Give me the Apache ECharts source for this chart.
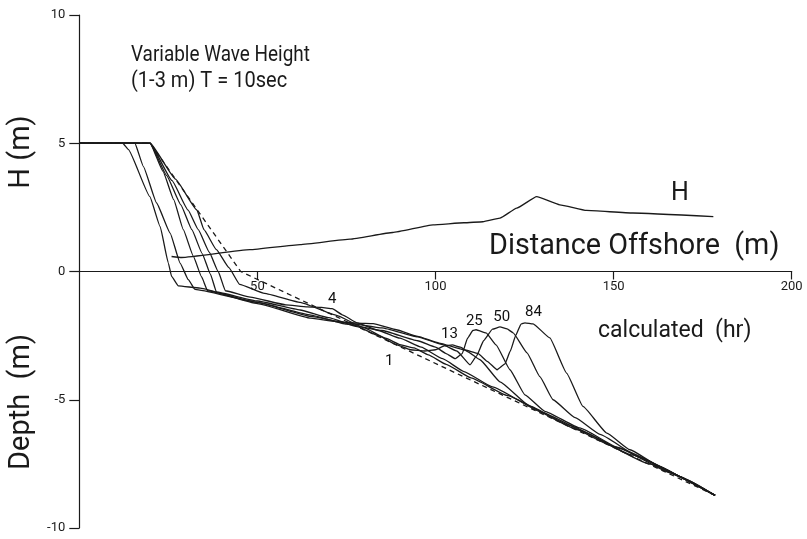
<!DOCTYPE html>
<html>
<head>
<meta charset="utf-8">
<script src="https://cdn.jsdelivr.net/npm/echarts@6/dist/echarts.min.js"></script>
<style>
html,body{margin:0;padding:0;background:#fff;}
#chart{width:807px;height:539px;}
</style>
</head>
<body>
<div id="chart"></div>
<script>
// ---- data (distance offshore m, elevation m) ----
const xTicks = [0, 50, 100, 150, 200];
const yTicks = [-10, -5, 0, 5, 10];

const initialProfile = [[0,5],[19.9,5],[45.3,0],[178.5,-8.73]];

const profile1 = [[0,5],[19.9,5],[27,3.6],[33,2.4],[35,1.63],[38.5,0.85],[42,0.15],[45,-0.5],[52,-0.85],[62,-1.2],[72,-1.7],[80,-2.2],[86,-2.6],[90,-2.85],[94,-2.98],[98,-3.25],[103,-3.62],[110,-4.15],[120,-4.83],[140,-6.17],[160,-7.5],[178.5,-8.73]];

const profile4 = [[0,5],[19.9,5],[26,3.55],[30.5,2.4],[33.4,1.63],[36.5,0.75],[39,0],[41,-0.75],[48,-1.0],[58,-1.3],[64,-1.38],[68,-1.4],[71,-1.45],[74,-1.7],[78,-2.0],[84,-2.3],[90,-2.6],[96,-2.95],[102,-3.4],[108,-3.9],[116,-4.5],[130,-5.5],[150,-6.82],[178.5,-8.73]];

const profile13 = [[0,5],[19.9,5],[24.5,3.75],[28.5,2.6],[31.6,1.63],[34.5,0.7],[36.8,-0.1],[38.5,-0.8],[50,-1.15],[62,-1.5],[70,-1.8],[78,-2.15],[84,-2.5],[89,-2.85],[93,-3.05],[97,-3.1],[100,-3.05],[102.5,-2.9],[104.7,-2.86],[107,-2.95],[109.1,-3.13],[112.5,-3.44],[118.1,-4.3],[126.5,-5.25],[137.7,-6.0],[155,-7.15],[178.5,-8.73]];

const profile25 = [[0,5],[19.9,5],[23.5,3.9],[26.5,2.8],[29.2,1.63],[32,0.6],[34.3,-0.2],[36,-0.75],[50,-1.2],[65,-1.7],[75,-2.05],[85,-2.3],[95,-2.7],[100,-2.95],[103,-3.2],[105.5,-3.4],[107.5,-3.2],[109,-2.6],[110.5,-2.3],[111.4,-2.27],[114.2,-2.39],[117,-2.86],[120.9,-3.83],[125.1,-4.81],[130.7,-5.45],[140.5,-6.1],[151.8,-6.9],[165.9,-7.85],[178.5,-8.73]];

const profile50 = [[0,5],[15.6,5],[18,4.09],[21.7,2.67],[25.5,1.5],[28.3,0.33],[30.6,-0.32],[32.5,-0.7],[50,-1.2],[65,-1.75],[75,-2.0],[85,-2.2],[95,-2.55],[102,-2.85],[106,-3.1],[109.7,-3.64],[111.5,-3.3],[113.5,-2.7],[116,-2.25],[118.1,-2.16],[120.1,-2.24],[121.8,-2.39],[125.7,-3.17],[129.3,-4.1],[133,-5.0],[139.2,-5.7],[146.2,-6.35],[157.4,-7.25],[168.6,-8.0],[178.5,-8.73]];

const profile84 = [[0,5],[12.2,5],[13.8,4.75],[19.8,2.92],[22.7,1.75],[25,0.33],[25.9,-0.19],[27.8,-0.56],[33.9,-0.65],[50,-1.25],[65,-1.82],[72,-1.95],[78,-2.01],[82.5,-2.03],[89,-2.27],[95,-2.53],[101,-2.79],[108,-3.05],[112,-3.2],[114.5,-3.5],[117.3,-3.83],[119.5,-3.6],[121,-3.1],[122.5,-2.5],[124,-2.05],[125.1,-2.0],[127.4,-2.04],[132.1,-2.59],[136.8,-3.96],[141.4,-5.26],[148.1,-6.3],[154.6,-6.95],[163,-7.6],[170.5,-8.12],[178.5,-8.73]];

const waveHeight = [[25.9,0.585],[28.7,0.546],[47.9,0.85],[62,1.05],[76,1.26],[88,1.52],[99.3,1.82],[108,1.9],[113.3,1.94],[118.1,2.08],[122.8,2.47],[128.4,2.92],[134.9,2.6],[142.4,2.38],[155.4,2.28],[178,2.14]];

const curveLabels = ['4', '1', '13', '25', '50', '84'];
const curveLabelPos = [[71.0,-1.08],[87.0,-3.51],[103.9,-2.44],[110.9,-1.95],[118.6,-1.78],[127.5,-1.60]];

// ---- chart ----
const ink = '#1a1a1a';
const font = 'Roboto, "Liberation Sans", sans-serif';
const chart = echarts.init(document.getElementById('chart'), null, {renderer: 'canvas'});

const gridTop = 15, gridBottom = 11, chartH = 539;
const plotH = chartH - gridTop - gridBottom;
// x axis drawn at y = 0, which sits in the middle of the symmetric -10..10 range
const xAxisOffset = -plotH * (0 - yTicks[0]) / (yTicks[yTicks.length - 1] - yTicks[0]);

function lineSeries(data, dashed) {
  return {
    type: 'line', data: data, symbol: 'none',
    smooth: dashed ? false : 0.12, smoothMonotone: 'x',
    lineStyle: {color: ink, width: 1.3, type: dashed ? [5, 4] : 'solid'},
    silent: true, z: dashed ? 3 : 2
  };
}

const profiles = [profile1, profile4, profile13, profile25, profile50, profile84];

const series = [lineSeries(initialProfile, true)]
  .concat(profiles.map(p => lineSeries(p, false)))
  .concat([lineSeries(waveHeight, false)])
  .concat([{
    type: 'scatter', symbolSize: 0, silent: true, z: 5,
    itemStyle: {opacity: 1},
    data: curveLabels.map((t, i) => ({value: curveLabelPos[i], name: t})),
    label: {show: true, position: 'inside', formatter: p => p.name, opacity: 1,
      color: '#111', fontSize: 15, fontFamily: font}
  }]);

chart.setOption({
  animation: false,
  backgroundColor: '#fff',
  grid: {left: 79.3, right: 15.3, top: gridTop, bottom: gridBottom, containLabel: false, outerBoundsMode: 'none'},
  xAxis: {
    type: 'value', min: xTicks[0], max: xTicks[xTicks.length - 1], interval: 50,
    position: 'bottom', offset: xAxisOffset,
    axisLine: {onZero: false, lineStyle: {color: ink, width: 1.2}},
    axisTick: {show: true, inside: false, length: 8, lineStyle: {color: ink, width: 1.2}},
    axisLabel: {showMinLabel: false, margin: 9, color: ink, fontSize: 13, fontFamily: font,
      formatter: v => xTicks.indexOf(v) >= 0 ? String(v) : ''},
    splitLine: {show: false}
  },
  yAxis: {
    type: 'value', min: yTicks[0], max: yTicks[yTicks.length - 1], interval: 5,
    axisLine: {show: true, onZero: false, lineStyle: {color: ink, width: 1.2}},
    axisTick: {show: true, length: 10, lineStyle: {color: ink, width: 1.2}},
    axisLabel: {margin: 14, color: ink, fontSize: 13, fontFamily: font,
      formatter: v => yTicks.indexOf(v) >= 0 ? String(v) : ''},
    splitLine: {show: false}
  },
  graphic: [
    {type: 'text', x: 22, y: 152, rotation: Math.PI / 2,
      style: {text: 'H (m)', fill: ink, font: '29px ' + font, textAlign: 'center', textVerticalAlign: 'middle'}},
    {type: 'text', x: 22, y: 402, rotation: Math.PI / 2,
      style: {text: 'Depth  (m)', fill: ink, font: '29px ' + font, textAlign: 'center', textVerticalAlign: 'middle'}},
    {type: 'text', x: 131, y: 55, scaleX: 0.86,
      style: {text: 'Variable Wave Height', fill: ink, font: '22px ' + font, textAlign: 'left', textVerticalAlign: 'middle'}},
    {type: 'text', x: 131, y: 81, scaleX: 0.91,
      style: {text: '(1-3 m) T = 10sec', fill: ink, font: '22px ' + font, textAlign: 'left', textVerticalAlign: 'middle'}},
    {type: 'text', x: 680, y: 194,
      style: {text: 'H', fill: ink, font: '25px ' + font, textAlign: 'center', textVerticalAlign: 'middle'}},
    {type: 'text', x: 489, y: 247,
      style: {text: 'Distance Offshore  (m)', fill: ink, font: '28.8px ' + font, textAlign: 'left', textVerticalAlign: 'middle'}},
    {type: 'text', x: 598, y: 331,
      style: {text: 'calculated  (hr)', fill: ink, font: '23px ' + font, textAlign: 'left', textVerticalAlign: 'middle'}}
  ],
  series: series
});
</script>
</body>
</html>
